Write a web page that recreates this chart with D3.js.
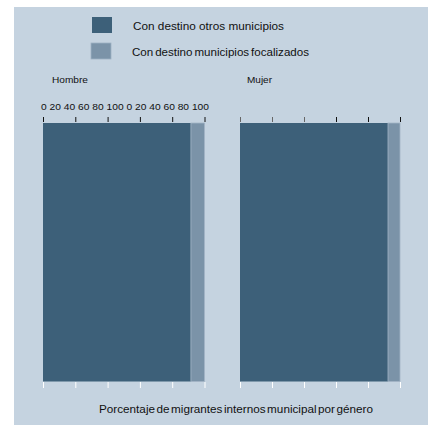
<!DOCTYPE html>
<html><head><meta charset="utf-8">
<script src="https://cdn.jsdelivr.net/npm/d3@7"></script>
<style>body{margin:0;background:#fff}svg{display:block;font-family:"Liberation Sans",Arial,sans-serif}</style>
</head><body>
<script>
const genders = ["Hombre", "Mujer"];
const otros = [91.6, 92.5];
const focalizados = [8.4, 7.5];
const tickValues = [0, 20, 40, 60, 80, 100];
const seriesNames = ["Con destino otros municipios", "Con destino municipios focalizados"];
const colors = ["#3d6079", "#7b93a8"];
const title = "Porcentaje de migrantes internos municipal por género";

const W = 428, H = 425;
const svg = d3.select("body").append("svg").attr("width", W).attr("height", H);
svg.append("rect").attr("x", 14).attr("y", 7).attr("width", W - 14).attr("height", H - 7).attr("fill", "#c5d3e0");

// legend
const leg = svg.append("g");
const legPos = [{x: 92, y: 17, tx: 133, ty: 30, len: 151}, {x: 91, y: 43, tx: 132, ty: 56, len: 177}];
seriesNames.forEach((n, i) => {
  leg.append("rect").attr("x", legPos[i].x).attr("y", legPos[i].y).attr("width", 20).attr("height", 16)
    .attr("fill", colors[i]).attr("stroke", i ? "#9fb1c3" : "none").attr("stroke-width", 0.8);
  const t = leg.append("text").attr("x", legPos[i].tx).attr("y", legPos[i].ty).attr("font-size", 10.5).attr("fill", "#111")
    .attr("textLength", legPos[i].len).attr("lengthAdjust", "spacingAndGlyphs").text(n);
  if (i === 1) t.attr("word-spacing", -1.2);
});

const panels = [{x0: 43, x1: 204.5, label: 52, len: 36}, {x0: 240, x1: 400, label: 247, len: 25}];
const y = d3.scaleBand().domain([0]).range([123, 381.5]).padding(0);

genders.forEach((g, i) => {
  const p = panels[i];
  const x = d3.scaleLinear().domain([0, 100]).range([p.x0, p.x1]);
  const grp = svg.append("g");
  grp.append("text").attr("x", p.label).attr("y", 83).attr("font-size", 9).attr("fill", "#111")
    .attr("textLength", p.len).attr("lengthAdjust", "spacingAndGlyphs").text(g);
  // bars
  grp.append("rect").attr("x", x(0)).attr("y", y(0)).attr("width", x(otros[i]) - x(0)).attr("height", y.bandwidth()).attr("fill", colors[0]);
  grp.append("rect").attr("x", x(otros[i])).attr("y", y(0)).attr("width", x(otros[i] + focalizados[i]) - x(otros[i])).attr("height", y.bandwidth())
    .attr("fill", colors[1]).attr("stroke", "#a3b4c5").attr("stroke-width", 0.8);
  // top axis ticks
  const top = d3.axisTop(x).tickValues(tickValues).tickSize(5).tickFormat("");
  const ta = grp.append("g").attr("transform", `translate(0,122)`).call(top);
  ta.select(".domain").remove();
  ta.selectAll("line").attr("stroke", (d, k) => (i === 1 && k < 3) ? "#666" : "#111").attr("stroke-width", 1);
  // bottom axis ticks (white)
  const bot = d3.axisBottom(x).tickValues(tickValues).tickSize(6).tickFormat("");
  const ba = grp.append("g").attr("transform", `translate(0,382)`).call(bot);
  ba.select(".domain").remove();
  ba.selectAll("line").attr("stroke", "#fff").attr("stroke-width", 1);
});

// tick labels row (only on left panel, as in reference)
svg.append("text").attr("x", 41).attr("y", 110).attr("font-size", 9).attr("fill", "#111")
  .attr("textLength", 168).attr("lengthAdjust", "spacingAndGlyphs")
  .text(tickValues.concat(tickValues).join(" "));

svg.append("text").attr("x", 99).attr("y", 413).attr("font-size", 10).attr("fill", "#111")
  .attr("textLength", 274).attr("lengthAdjust", "spacingAndGlyphs").attr("word-spacing", -1.5).text(title);
</script>
</body></html>
